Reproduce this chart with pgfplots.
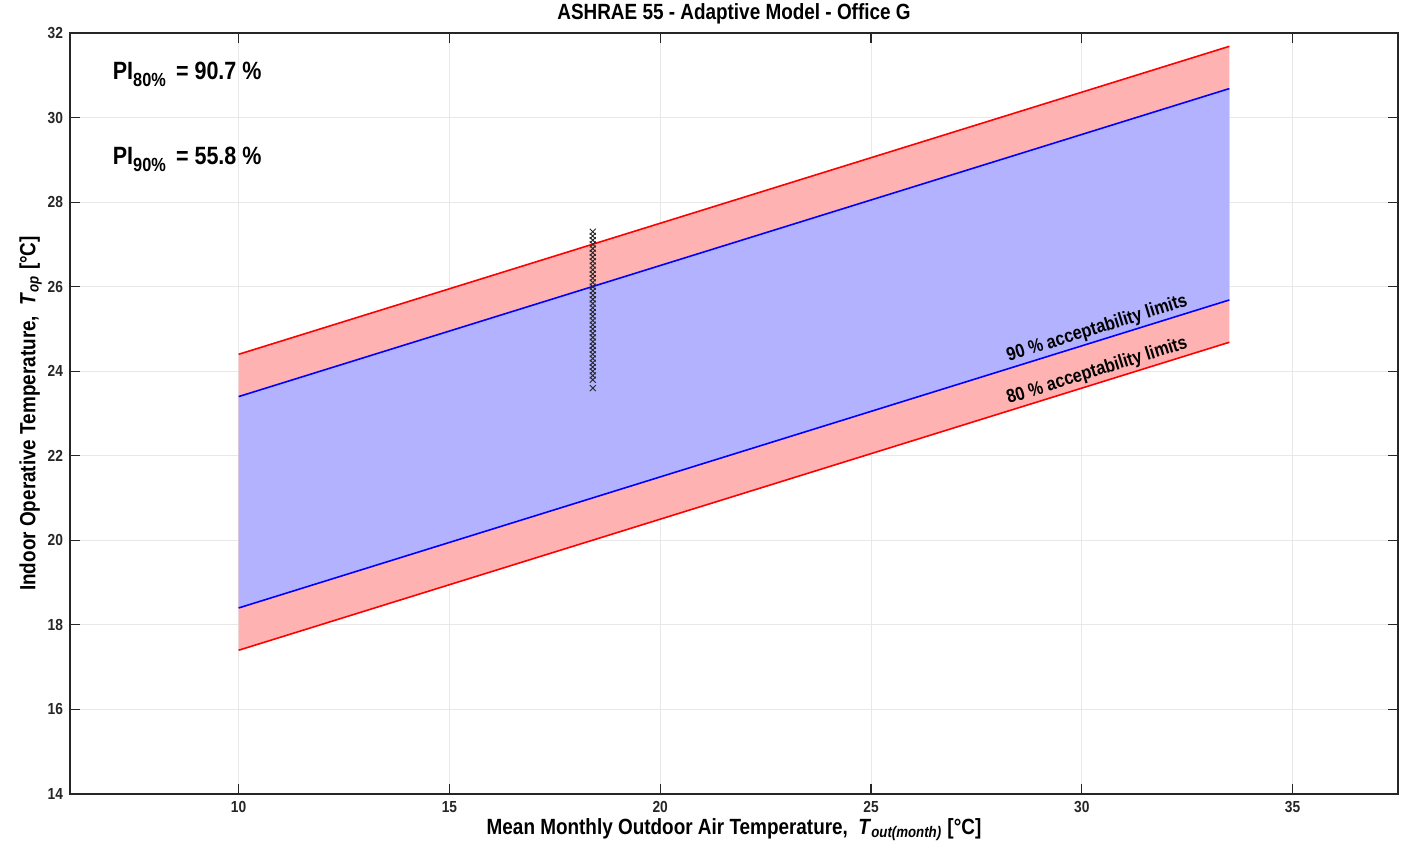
\documentclass[border=0pt]{standalone}
\usepackage{fontspec}
\setmainfont{Liberation Sans}[FakeStretch=0.86]
\usepackage{pgfplots}
\pgfplotsset{compat=1.18}
\usetikzlibrary{calc}

\definecolor{axgray}{RGB}{38,38,38}
\definecolor{bandred}{RGB}{255,178,178}
\definecolor{bandblue}{RGB}{178,178,255}
\newcommand{\sub}[1]{\raisebox{-0.55ex}{\fontsize{9.5}{10}\selectfont #1}}

\begin{document}
\begin{tikzpicture}
\begin{axis}[name=ax, scale only axis, width=664pt, height=380.5pt,
  xmin=6, xmax=37.5, ymin=14, ymax=32,
  xtick={10,15,20,25,30,35}, ytick={14,16,...,32},
  grid=major, major grid style={gray!18, line width=0.5pt},
  axis line style={axgray, line width=0.6pt}, tick style={axgray, line width=0.6pt},
  tick align=inside, major tick length=5pt,
  /pgf/number format/assume math mode=true,
  ticklabel style={font=\bfseries\fontsize{8}{9}\selectfont, text=axgray},
  title={\textbf{ASHRAE 55 - Adaptive Model - Office G}},
  title style={font=\fontsize{11}{12}\selectfont, yshift=-5pt},
  xlabel={\textbf{Mean Monthly Outdoor Air Temperature,\ \ \textit{T}\textsubscript{\textit{out(month)}} [°C]}},
  ylabel={\textbf{Indoor Operative Temperature,\ \ \textit{T}\textsubscript{\textit{op}} [°C]}},
  label style={font=\fontsize{11}{12}\selectfont},
  xlabel style={yshift=4pt}, ylabel style={yshift=-4pt},
  clip=false]

% 80 % band and 90 % band
\addplot[fill=bandred, draw=none] coordinates {(10,17.4) (33.5,24.685) (33.5,31.685) (10,24.4)} -- cycle;
\addplot[fill=bandblue, draw=none] coordinates {(10,18.4) (33.5,25.685) (33.5,30.685) (10,23.4)} -- cycle;

\addplot[red, line width=0.8pt] coordinates {(10,24.4) (33.5,31.685)};
\addplot[red, line width=0.8pt] coordinates {(10,17.4) (33.5,24.685)}
  node[pos=0.87, sloped, above, inner sep=1pt, text=black, font=\bfseries\fontsize{9.5}{10}\selectfont] {80 \% acceptability limits};
\addplot[blue, line width=0.8pt] coordinates {(10,23.4) (33.5,30.685)};
\addplot[blue, line width=0.8pt] coordinates {(10,18.4) (33.5,25.685)}
  node[pos=0.87, sloped, above, inner sep=1pt, text=black, font=\bfseries\fontsize{9.5}{10}\selectfont] {90 \% acceptability limits};

% measured operative temperatures
\addplot[only marks, mark=x, mark size=2.1pt, mark options={black!85, line width=0.45pt}] coordinates {
(18.4,23.6) (18.4,23.8) (18.4,23.9) (18.4,24.0) (18.4,24.1) (18.4,24.2) (18.4,24.3)
(18.4,24.4) (18.4,24.5) (18.4,24.6) (18.4,24.7) (18.4,24.8) (18.4,24.9) (18.4,25.0)
(18.4,25.1) (18.4,25.2) (18.4,25.3) (18.4,25.4) (18.4,25.5) (18.4,25.6) (18.4,25.7)
(18.4,25.8) (18.4,25.9) (18.4,26.0) (18.4,26.1) (18.4,26.2) (18.4,26.3) (18.4,26.4)
(18.4,26.5) (18.4,26.6) (18.4,26.7) (18.4,26.8) (18.4,26.9) (18.4,27.0) (18.4,27.1)
(18.4,27.2) (18.4,27.3)};

\node[anchor=base west, font=\bfseries\fontsize{12.5}{14}\selectfont] at (axis cs:6.85,30.9) {PI\sub{80\%}\ \,= 90.7 \%};
\node[anchor=base west, font=\bfseries\fontsize{12.5}{14}\selectfont] at (axis cs:6.85,28.9) {PI\sub{90\%}\ \,= 55.8 \%};
\end{axis}
\pgfresetboundingbox
\path ($(ax.south west)+(-35pt,-30.5pt)$) rectangle ($(ax.north east)+(5pt,16.5pt)$);
\end{tikzpicture}
\end{document}
